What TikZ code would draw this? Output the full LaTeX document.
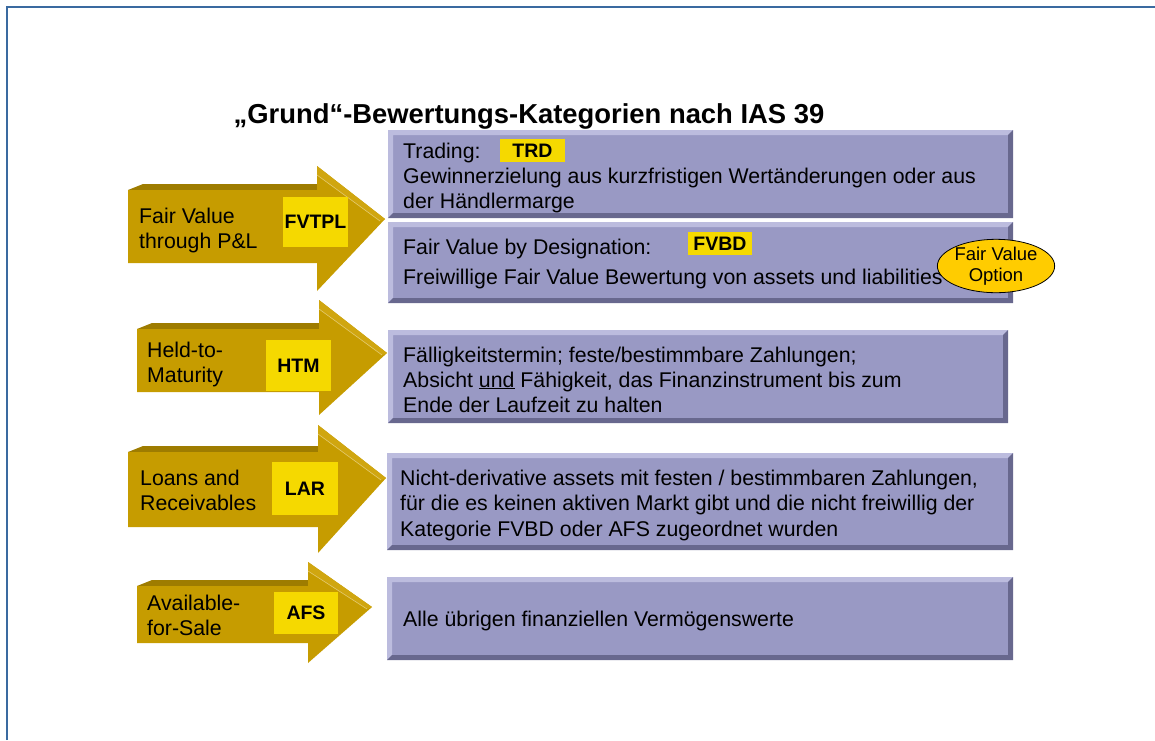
\documentclass[tikz,border=0pt]{standalone}
\usepackage{fontspec}
\setmainfont{Liberation Sans}
\usetikzlibrary{shapes.geometric}

\definecolor{frameblue}{RGB}{58,106,160}
\definecolor{boxface}{RGB}{153,153,196}
\definecolor{boxlight}{RGB}{188,188,222}
\definecolor{boxdark}{RGB}{104,104,142}
\definecolor{goldface}{RGB}{198,156,0}
\definecolor{goldtop}{RGB}{158,124,0}
\definecolor{goldlight}{RGB}{208,166,16}
\definecolor{tagyellow}{RGB}{245,217,0}
\definecolor{optyellow}{RGB}{255,204,0}

% 3D block arrow: #1 left x, #2 head base x, #3 tip x,
% #4 body top y, #5 body bottom y, #6 head top y, #7 head bottom y, #8 tip y
\newcommand{\goldarrow}[8]{%
  \fill[goldtop] (#1,#4) -- (#1+15,#4-6) -- (#2,#4-6) -- (#2,#4) -- cycle;
  \fill[goldface] (#1,#4) -- (#2,#4) -- (#2,#6) -- (#3,#8) -- (#2,#7)
                  -- (#2,#5) -- (#1,#5) -- cycle;
  \fill[goldlight] (#2,#6) -- (#3,#8) -- (#3-5,#8+2) -- (#2,#6+9) -- cycle;
  \draw[goldlight!60!white, line width=0.6pt] (#2,#6+9) -- (#3-5,#8+2);
}

% bevelled panel: #1,#2 upper left corner, #3,#4 lower right corner
\newcommand{\bevelbox}[4]{%
  \fill[boxface] (#1,#2) rectangle (#3,#4);
  \fill[boxlight] (#1,#2) -- (#3,#2) -- (#3-5,#2+5) -- (#1+5,#2+5)
                  -- (#1+5,#4-5) -- (#1,#4) -- cycle;
  \fill[boxdark] (#3,#2) -- (#3,#4) -- (#1,#4) -- (#1+5,#4-5)
                 -- (#3-5,#4-5) -- (#3-5,#2+5) -- cycle;
}

\tikzset{
  line/.style={anchor=base west, inner sep=0pt, font=\fontsize{21.3}{25}\selectfont},
  tag/.style={fill=tagyellow, inner sep=0pt, font=\bfseries\fontsize{19.5}{21}\selectfont},
  titletext/.style={anchor=base, inner sep=0pt, font=\bfseries\fontsize{27.4}{30}\selectfont},
  option/.style={ellipse, draw=black, line width=0.8pt, fill=optyellow, inner sep=0pt,
                 minimum width=102pt, minimum height=53pt, align=center,
                 font=\fontsize{18.5}{20.5}\selectfont},
}

\begin{document}
\begin{tikzpicture}[x=1pt,y=-1pt]
\useasboundingbox (0,0) rectangle (1155,740);

% outer frame (top and left edges)
\draw[frameblue, line width=2pt] (7,740) -- (7,7) -- (1155,7);

% title
\node[titletext] (title) at (529,123) {„Grund“-Bewertungs-Kategorien nach IAS 39};

% description panels
\bevelbox{388}{130}{1013}{218}
\bevelbox{388}{222}{1013}{303}
\bevelbox{388}{330}{1008}{423}
\bevelbox{387}{453}{1013}{550}
\bevelbox{387}{577}{1013}{660}

% category arrows
\goldarrow{128}{317}{385}{190}{263}{166}{291}{219}
\goldarrow{137}{319}{387}{329}{392}{300}{415}{353}
\goldarrow{128}{318}{386}{452}{527}{425}{553}{478}
\goldarrow{137}{308}{372}{586}{643}{562}{663}{607}

% arrow captions
\node[line] (fv1) at (139,223) {Fair Value};
\node[line] (fv2) at (139,248) {through P\&L};
\node[line] (htm1) at (147,357) {Held-to-};
\node[line] (htm2) at (147,382) {Maturity};
\node[line] (lar1) at (140,485) {Loans and};
\node[line] (lar2) at (140,510) {Receivables};
\node[line] (afs1) at (147,610) {Available-};
\node[line] (afs2) at (147,635) {for-Sale};

% abbreviation tags
\node[tag, minimum width=65pt, minimum height=50pt] (fvtpl) at (315.5,222) {FVTPL};
\node[tag, minimum width=65pt, minimum height=51pt] (htm) at (298.5,365.5) {HTM};
\node[tag, minimum width=66pt, minimum height=53pt] (lar) at (305,488.5) {LAR};
\node[tag, minimum width=64pt, minimum height=42pt] (afs) at (306,613) {AFS};
\node[tag, minimum width=65pt, minimum height=23pt] (trd) at (532.5,150.5) {TRD};
\node[tag, minimum width=64pt, minimum height=23pt] (fvbd) at (720,243.5) {FVBD};

% panel texts
\node[line] (t1) at (403,158) {Trading:};
\node[line] (t2) at (403,183) {Gewinnerzielung aus kurzfristigen Wertänderungen oder aus};
\node[line] (t3) at (403,208) {der Händlermarge};

\node[line] (d1) at (403,254) {Fair Value by Designation:};
\node[line] (d2) at (403,284) {Freiwillige Fair Value Bewertung von assets und liabilities};

\node[line] (h1) at (403,362) {Fälligkeitstermin; feste/bestimmbare Zahlungen;};
\node[line] (h2) at (403,387) {Absicht \underline{und} Fähigkeit, das Finanzinstrument bis zum};
\node[line] (h3) at (403,412) {Ende der Laufzeit zu halten};

\node[line] (l1) at (400,485) {Nicht-derivative assets mit festen / bestimmbaren Zahlungen,};
\node[line] (l2) at (400,510) {für die es keinen aktiven Markt gibt und die nicht freiwillig der};
\node[line] (l3) at (400,536) {Kategorie FVBD oder AFS zugeordnet wurden};

\node[line] (a1) at (403,626) {Alle übrigen finanziellen Vermögenswerte};

% fair value option marker
\node[option] (fvo) at (996,266) {Fair Value\\Option};
\end{tikzpicture}
\end{document}
